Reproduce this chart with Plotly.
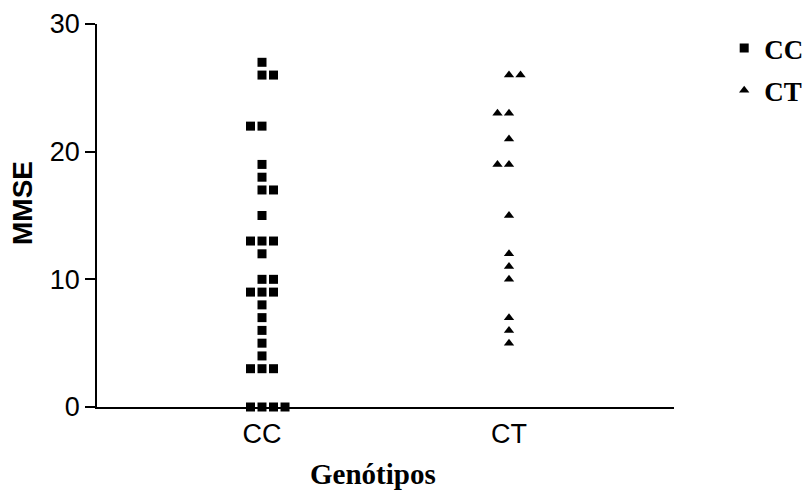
import plotly.graph_objects as go

# ---- data ----
categories = ["CC", "CT"]
cc_values = [27, 26, 26, 22, 22, 19, 18, 17, 17, 15, 13, 13, 13, 12, 10, 10,
             9, 9, 9, 8, 7, 6, 5, 4, 3, 3, 3, 0, 0, 0, 0]
ct_values = [26, 26, 23, 23, 21, 19, 19, 15, 12, 11, 10, 7, 6, 5]
y_ticks = [0, 10, 20, 30]
x_title = "Genótipos"
y_title = "MMSE"

# duplicate groups that are spread to the left first (scatter-dot layout rule)
left_first = {"CC": [22], "CT": [23, 19]}
SPREAD = 0.0466  # horizontal spacing between tied points, in category units


def spread_x(cat_index, values, left_groups):
    xs = []
    counts = {}
    totals = {}
    for v in values:
        totals[v] = totals.get(v, 0) + 1
    for v in values:
        n = totals[v]
        k = counts.get(v, 0)
        counts[v] = k + 1
        start = -(n // 2) if v in left_groups else -((n - 1) // 2)
        xs.append(cat_index + (start + k) * SPREAD)
    return xs


fig = go.Figure()
fig.add_trace(go.Scatter(
    x=spread_x(0, cc_values, left_first["CC"]), y=cc_values,
    mode="markers", name="CC", legendgroup="CC",
    marker=dict(symbol="square", size=9, color="black"),
    cliponaxis=False,
))
fig.add_trace(go.Scatter(
    x=spread_x(1, ct_values, left_first["CT"]), y=ct_values,
    mode="markers", name="CT", legendgroup="CT",
    marker=dict(symbol="triangle-up", size=9, color="black"),
    cliponaxis=False,
))

fig.update_layout(
    width=808, height=490,
    margin=dict(l=97, r=134, t=24, b=83, autoexpand=False),
    paper_bgcolor="white", plot_bgcolor="white",
    showlegend=True,
    legend=dict(
        x=1.087, y=1.0, xanchor="left", yanchor="top",
        font=dict(family="Liberation Serif", size=27, color="black", weight="bold"),
        bgcolor="rgba(0,0,0,0)",
        tracegroupgap=4,
    ),
    font=dict(family="Liberation Sans", color="black"),
    annotations=[
        dict(
            text=x_title, xref="paper", yref="paper", x=0.479, y=0,
            xanchor="center", yanchor="top", yshift=-49, showarrow=False,
            font=dict(family="Liberation Serif", size=29, color="black", weight="bold"),
        ),
        dict(
            text=y_title, xref="paper", yref="paper", x=-0.128, y=0.533,
            xanchor="center", yanchor="middle", textangle=-90, showarrow=False,
            font=dict(family="Liberation Sans", size=28, color="black", weight="bold"),
        ),
    ],
)

fig.update_xaxes(
    range=[-0.668, 1.668], automargin=False,
    tickmode="array", tickvals=[0, 1], ticktext=categories,
    showgrid=False, zeroline=False,
    showline=True, linecolor="black", linewidth=1.5,
    ticks="outside", ticklen=2, tickcolor="rgba(0,0,0,0)",
    tickfont=dict(family="Liberation Sans", size=27, color="black"),
)
fig.update_yaxes(
    range=[0, 30], automargin=False,
    tickmode="array", tickvals=y_ticks,
    showgrid=False, zeroline=False,
    showline=True, linecolor="black", linewidth=1.5,
    ticks="outside", ticklen=10, tickwidth=1.5, tickcolor="black",
    tickfont=dict(family="Liberation Sans", size=27, color="black"),
)

fig.write_html(
    "out.html",
    config={"displayModeBar": False},
    post_script="document.body.style.margin='0';document.body.style.overflow='hidden';",
)
